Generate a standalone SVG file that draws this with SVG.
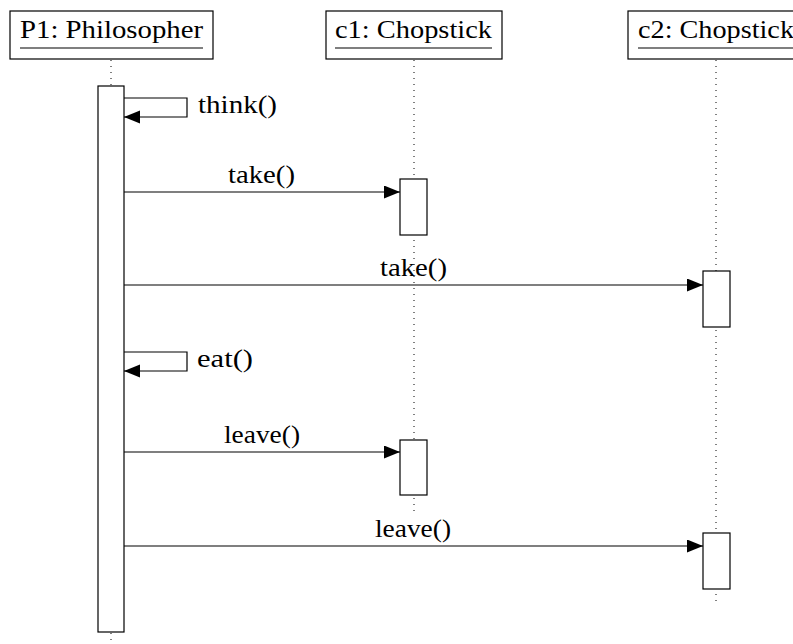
<svg xmlns="http://www.w3.org/2000/svg" width="793" height="644" viewBox="0 0 793 644">
<style>
text{font-family:"Liberation Serif",serif;font-size:25px;fill:#000}
.box{fill:#fff;stroke:#000;stroke-width:1.2}
.life{stroke:#000;stroke-width:1;stroke-dasharray:1 5}
.msg{fill:none;stroke:#000;stroke-width:1.2}
.ul{stroke:#000;stroke-width:1.2}
</style>
<defs>
<marker id="ah" markerUnits="userSpaceOnUse" markerWidth="17" markerHeight="14" refX="16" refY="6.5" orient="auto">
<path d="M0,0 L16,6.5 L0,13 Z" fill="#000"/>
</marker>
</defs>
<g id="lifelines">
<line class="life" x1="111" y1="60" x2="111" y2="86"/>
<line class="life" x1="111" y1="633" x2="111" y2="644"/>
<line class="life" x1="414" y1="60" x2="414" y2="512"/>
<line class="life" x1="716" y1="60" x2="716" y2="606"/>
</g>
<g id="P1">
<rect class="box" x="10" y="11" width="203" height="48"/>
<text x="20" y="38" textLength="183" lengthAdjust="spacingAndGlyphs">P1: Philosopher</text>
<line class="ul" x1="20" y1="48" x2="203" y2="48"/>
</g>
<g id="c1">
<rect class="box" x="326" y="11" width="176" height="48"/>
<text x="335" y="38" textLength="157" lengthAdjust="spacingAndGlyphs">c1: Chopstick</text>
<line class="ul" x1="335" y1="48" x2="492" y2="48"/>
</g>
<g id="c2">
<rect class="box" x="628" y="11" width="180" height="48"/>
<text x="638" y="38" textLength="156" lengthAdjust="spacingAndGlyphs">c2: Chopstick</text>
<line class="ul" x1="638" y1="48" x2="793" y2="48"/>
</g>
<g id="activations">
<rect class="box" x="98" y="86" width="26" height="546"/>
<rect class="box" x="400" y="179" width="27" height="56"/>
<rect class="box" x="703" y="271" width="27" height="56"/>
<rect class="box" x="400" y="440" width="27" height="55"/>
<rect class="box" x="703" y="533" width="27" height="56"/>
</g>
<g id="connectors">
<path class="msg" d="M124,98 H187 V117 H124" marker-end="url(#ah)"/>
<path class="msg" d="M124,192 H400" marker-end="url(#ah)"/>
<path class="msg" d="M124,285 H703" marker-end="url(#ah)"/>
<path class="msg" d="M124,352 H187 V371 H124" marker-end="url(#ah)"/>
<path class="msg" d="M124,452 H400" marker-end="url(#ah)"/>
<path class="msg" d="M124,546 H703" marker-end="url(#ah)"/>
</g>
<g id="labels">
<text x="198" y="113" textLength="79" lengthAdjust="spacingAndGlyphs">think()</text>
<text x="228" y="183" textLength="67" lengthAdjust="spacingAndGlyphs">take()</text>
<text x="380" y="276" textLength="67" lengthAdjust="spacingAndGlyphs">take()</text>
<text x="197" y="367" textLength="56" lengthAdjust="spacingAndGlyphs">eat()</text>
<text x="224" y="443" textLength="76" lengthAdjust="spacingAndGlyphs">leave()</text>
<text x="375" y="537" textLength="76" lengthAdjust="spacingAndGlyphs">leave()</text>
</g>
</svg>
